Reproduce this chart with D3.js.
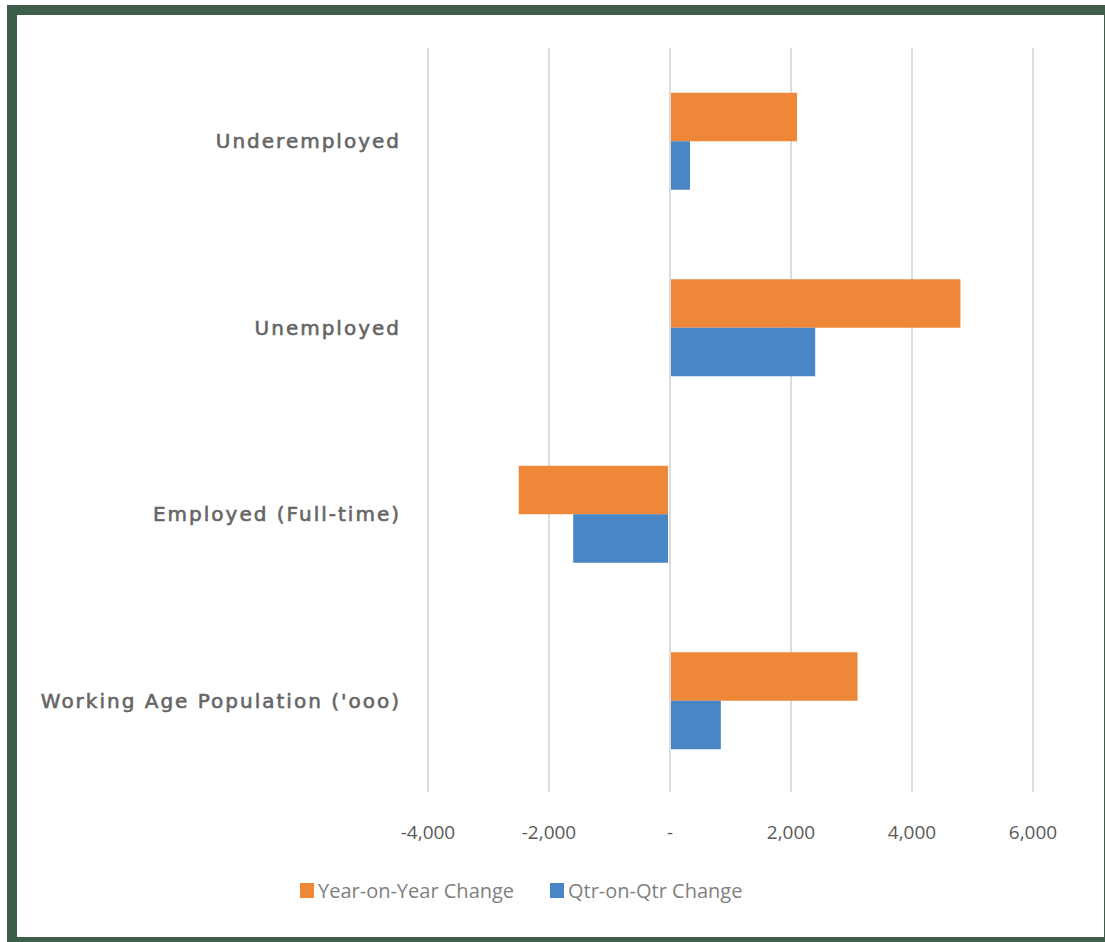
<!DOCTYPE html>
<html>
<head>
<meta charset="utf-8">
<script src="https://cdn.jsdelivr.net/npm/d3@7"></script>
<style>
  body { margin: 0; background: #fff; }
  svg { display: block; }
</style>
</head>
<body>
<svg id="chart"></svg>
<script>
var categories = ["Underemployed", "Unemployed", "Employed (Full-time)", "Working Age Population ('ooo)"];
var seriesNames = ["Year-on-Year Change", "Qtr-on-Qtr Change"];
var yoyValues = [2100, 4800, -2500, 3100];
var qoqValues = [330, 2400, -1600, 840];
var tickValues = [-4000, -2000, 0, 2000, 4000, 6000];
var colors = ["#ef8739", "#4a86c6"];

var W = 1105, H = 942;
var svg = d3.select("#chart").attr("width", W).attr("height", H);

// green frame (right edge is cropped in the original)
svg.append("rect").attr("x", 0).attr("y", 0).attr("width", W).attr("height", H).attr("fill", "#fff");
svg.append("rect").attr("x", 7).attr("y", 5).attr("width", W - 7).attr("height", 937).attr("fill", "#3f5e4a");
svg.append("rect").attr("x", 17).attr("y", 15).attr("width", W - 18).attr("height", 922).attr("fill", "#fff");

var rows = categories.map(function(c, i) {
  return { name: c, values: [yoyValues[i], qoqValues[i]] };
});

var x = d3.scaleLinear().domain([-4000, 6000]).range([428, 1033]);
var y = d3.scaleBand().domain(categories).range([48, 794]).paddingInner(0.48).paddingOuter(0.24);
var y1 = d3.scaleBand().domain([0, 1]).range([0, y.bandwidth()]);

// grid
svg.append("g").selectAll("line")
  .data(tickValues)
  .enter().append("line")
  .attr("x1", function(d) { return x(d); })
  .attr("x2", function(d) { return x(d); })
  .attr("y1", 48).attr("y2", 792)
  .attr("stroke", "#dcdcdc").attr("stroke-width", 2);

// bars
var groups = svg.append("g").selectAll("g")
  .data(rows)
  .enter().append("g")
  .attr("transform", function(d) { return "translate(0," + y(d.name) + ")"; });

groups.selectAll("rect")
  .data(function(d) { return d.values; })
  .enter().append("rect")
  .attr("x", function(d) { return d < 0 ? x(d) : x(0) + 1; })
  .attr("width", function(d) { return d < 0 ? x(0) - 2 - x(d) : x(d) - x(0) - 1; })
  .attr("y", function(d, i) { return y1(i); })
  .attr("height", y1.bandwidth())
  .attr("fill", function(d, i) { return colors[i]; });

// category labels
svg.append("g").selectAll("text")
  .data(categories)
  .enter().append("text")
  .attr("x", 401)
  .attr("y", function(d) { return y(d) + y.bandwidth() / 2; })
  .attr("dy", "0.35em")
  .attr("text-anchor", "end")
  .attr("font-family", "'DejaVu Sans', sans-serif")
  .attr("font-size", 20)
  .attr("letter-spacing", 2)
  .attr("fill", "#666")
  .attr("stroke", "#666")
  .attr("stroke-width", 0.6)
  .text(function(d) { return d; });

// x tick labels (plain hyphen for negatives, dash for zero)
var fmt = d3.format(",");
svg.append("g").selectAll("text")
  .data(tickValues)
  .enter().append("text")
  .attr("x", function(d) { return x(d); })
  .attr("y", 839)
  .attr("text-anchor", "middle")
  .attr("font-family", "'Open Sans', sans-serif")
  .attr("font-size", 19)
  .attr("fill", "#595959")
  .text(function(d) { return d === 0 ? "-" : (d < 0 ? "-" : "") + fmt(Math.abs(d)); });

// legend
var legend = svg.append("g").attr("transform", "translate(300,891)");
var items = [{ name: seriesNames[0], x: 0 }, { name: seriesNames[1], x: 250 }];
items.forEach(function(it, i) {
  legend.append("rect").attr("x", it.x).attr("y", -8).attr("width", 14).attr("height", 15).attr("fill", colors[i]);
  legend.append("text")
    .attr("x", it.x + 18).attr("y", 0).attr("dy", "0.35em")
    .attr("font-family", "'Open Sans', sans-serif")
    .attr("font-size", 20)
    .attr("fill", "#7f7f7f")
    .text(it.name);
});
</script>
</body>
</html>
